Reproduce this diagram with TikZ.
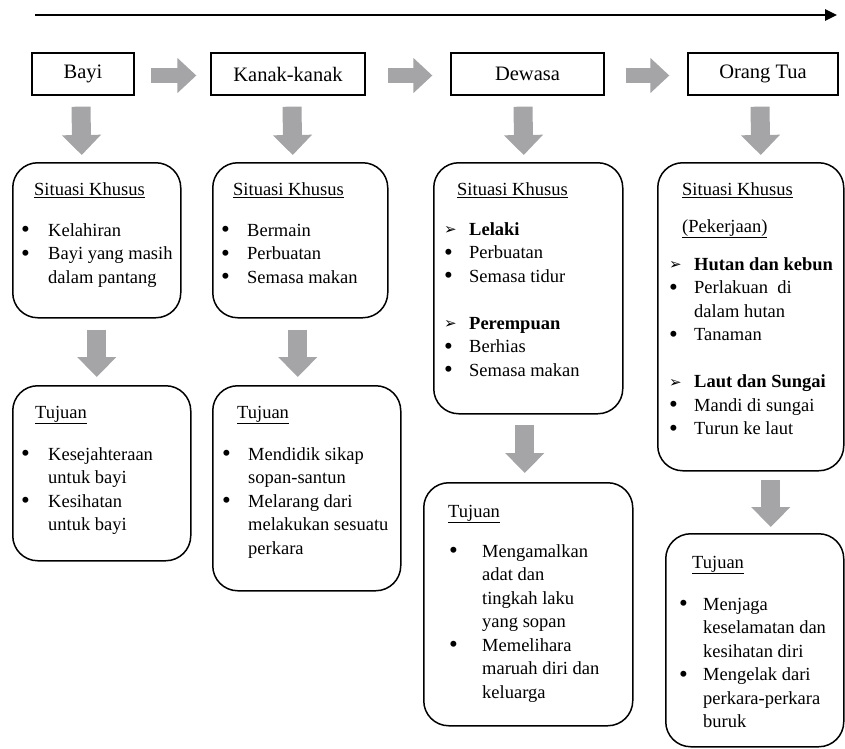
\documentclass[tikz,border=0pt]{standalone}
\usepackage{fontspec}
\setmainfont{Liberation Serif}
\newfontfamily\symfont{DejaVu Sans}
\usetikzlibrary{arrows.meta}
\definecolor{arrowgray}{RGB}{165,165,167}
\newlength\bw
\newlength\ulw
\newcommand{\ttl}[2][3pt]{\settowidth\ulw{#2}\rlap{\rule[-#1]{\ulw}{1.5pt}}#2}
\newcommand{\itm}[1]{\makebox[\bw][l]{\smash{\raisebox{-1.5pt}{\scalebox{1.35}{\textbullet}}}}#1}
\newcommand{\cnt}[1]{\hspace*{\bw}#1}
\newcommand{\grp}[1]{\makebox[\bw][l]{\smash{\raisebox{0.5pt}{\symfont\fontsize{15}{15}\selectfont ➢}}}\textbf{#1}}
\newenvironment{lines}[1]{\global\bw=#1\begin{tabular}[t]{@{}l@{}}}{\end{tabular}}
\tikzset{
  stage/.style={draw, line width=1.3pt, minimum height=42pt, inner sep=0pt,
    font=\fontsize{20.5}{24}\selectfont},
  info/.style={draw, line width=1.5pt, rounded corners=25pt, anchor=north west, inner sep=0pt},
  txt/.style={anchor=base west, inner sep=0pt,
    font=\fontsize{18.5}{23.5}\selectfont},
  rarrow/.style={arrowgray, line width=15pt, -{Triangle[length=19pt,width=34pt]}},
  darrow/.style={arrowgray, line width=19pt, -{Triangle[length=20pt,width=38pt]}},
  timeline/.style={line width=2.5pt, -{Triangle[length=12pt,width=11pt]}}
}

\begin{document}
\begin{tikzpicture}[x=1pt,y=-1pt]
  \useasboundingbox (0,0) rectangle (845,748);
  % time line
  \coordinate (tstart) at (35,15);
  \coordinate (tend) at (837,15);
  \draw[timeline] (tstart) -- (tend);

  % stages
  \node[stage, minimum width=102pt] (bayi)   at (83,74)    {Bayi};
  \node[stage, minimum width=154pt] (kanak)  at (288,74)   {Kanak-kanak};
  \node[stage, minimum width=153pt] (dewasa) at (527.5,74) {Dewasa};
  \node[stage, minimum width=150pt] (tua)    at (763,74)   {Orang Tua};
  \draw[rarrow] ([xshift=16pt,yshift=-1.5pt]bayi.east)   -- ([xshift=-14pt,yshift=-1.5pt]kanak.west);
  \draw[rarrow] ([xshift=22pt,yshift=-1.5pt]kanak.east)  -- ([xshift=-18pt,yshift=-1.5pt]dewasa.west);
  \draw[rarrow] ([xshift=21pt,yshift=-1.5pt]dewasa.east) -- ([xshift=-18pt,yshift=-1.5pt]tua.west);

  % situasi khusus
  \node[info, minimum width=168pt, minimum height=155pt] (skbayi)   at (12,162)  {};
  \node[info, minimum width=175pt, minimum height=155pt] (skkanak)  at (212,162) {};
  \node[info, minimum width=189pt, minimum height=251pt] (skdewasa) at (433,162) {};
  \node[info, minimum width=186pt, minimum height=308pt] (sktua)    at (657,162) {};

  \draw[darrow] ([xshift=-2pt,yshift=-11pt]bayi.south)   -- ([xshift=-15pt,yshift=7pt]skbayi.north);
  \draw[darrow] ([xshift=4pt,yshift=-11pt]kanak.south)   -- ([xshift=-7.5pt,yshift=7pt]skkanak.north);
  \draw[darrow] ([xshift=-4.5pt,yshift=-11pt]dewasa.south) -- ([xshift=-4.5pt,yshift=7pt]skdewasa.north);
  \draw[darrow] ([xshift=-3pt,yshift=-11pt]tua.south)    -- ([xshift=10pt,yshift=7pt]sktua.north);

  \node[txt] (skbayi-h) at (34,195) {\ttl{Situasi Khusus}};
  \node[txt] (skbayi-l) at (21,236) {\begin{lines}{27pt}
    \itm{Kelahiran}\\ \itm{Bayi yang masih}\\ \cnt{dalam pantang}\end{lines}};
  \node[txt] (skkanak-h) at (233,195) {\ttl{Situasi Khusus}};
  \node[txt] (skkanak-l) at (221,236) {\begin{lines}{26pt}
    \itm{Bermain}\\ \itm{Perbuatan}\\ \itm{Semasa makan}\end{lines}};
  \node[txt] (skdewasa-h) at (457,195) {\ttl{Situasi Khusus}};
  \node[txt] (skdewasa-l) at (444,235) {\begin{lines}{25pt}
    \grp{Lelaki}\\ \itm{Perbuatan}\\ \itm{Semasa tidur}\\[23.5pt]
    \grp{Perempuan}\\ \itm{Berhias}\\ \itm{Semasa makan}\end{lines}};
  \node[txt] (sktua-h) at (682,195) {\ttl{Situasi Khusus}};
  \node[txt] (sktua-h2) at (682,232) {\ttl[6pt]{(Pekerjaan)}};
  \node[txt] (sktua-l) at (669,270) {\begin{lines}{25pt}
    \grp{Hutan dan kebun}\\ \itm{Perlakuan~ di}\\ \cnt{dalam hutan}\\ \itm{Tanaman}\\[23.5pt]
    \grp{Laut dan Sungai}\\ \itm{Mandi di sungai}\\ \itm{Turun ke laut}\end{lines}};

  % tujuan
  \node[info, minimum width=178pt, minimum height=175pt] (tjbayi)   at (12,385)  {};
  \node[info, minimum width=188pt, minimum height=205pt] (tjkanak)  at (212,385) {};
  \node[info, minimum width=209pt, minimum height=243pt] (tjdewasa) at (423,482) {};
  \node[info, minimum width=178pt, minimum height=213pt] (tjtua)    at (665,533) {};

  \draw[darrow] ([yshift=-11pt]skbayi.south)                 -- ([xshift=-5pt,yshift=8pt]tjbayi.north);
  \draw[darrow] ([xshift=-2.5pt,yshift=-11pt]skkanak.south)  -- ([xshift=-9pt,yshift=8pt]tjkanak.north);
  \draw[darrow] ([xshift=-3.5pt,yshift=-10pt]skdewasa.south) -- ([xshift=-3.5pt,yshift=9pt]tjdewasa.north);
  \draw[darrow] ([xshift=20pt,yshift=-8pt]sktua.south)       -- ([xshift=16pt,yshift=6pt]tjtua.north);

  \node[txt] (tjbayi-h) at (35,418) {\ttl[6pt]{Tujuan}};
  \node[txt] (tjbayi-l) at (21,460) {\begin{lines}{27pt}
    \itm{Kesejahteraan}\\ \cnt{untuk bayi}\\ \itm{Kesihatan}\\ \cnt{untuk bayi}\end{lines}};
  \node[txt] (tjkanak-h) at (237,418) {\ttl[6pt]{Tujuan}};
  \node[txt] (tjkanak-l) at (222,460) {\begin{lines}{26pt}
    \itm{Mendidik sikap}\\ \cnt{sopan-santun}\\ \itm{Melarang dari}\\ \cnt{melakukan sesuatu}\\ \cnt{perkara}\end{lines}};
  \node[txt] (tjdewasa-h) at (448,517) {\ttl[6pt]{Tujuan}};
  \node[txt] (tjdewasa-l) at (449,557) {\begin{lines}{33pt}
    \itm{Mengamalkan}\\ \cnt{adat dan}\\ \cnt{tingkah laku}\\ \cnt{yang sopan}\\
    \itm{Memelihara}\\ \cnt{maruah diri dan}\\ \cnt{keluarga}\end{lines}};
  \node[txt] (tjtua-h) at (692,568) {\ttl[6pt]{Tujuan}};
  \node[txt] (tjtua-l) at (679,610) {\begin{lines}{24pt}
    \itm{Menjaga}\\ \cnt{keselamatan dan}\\ \cnt{kesihatan diri}\\ \itm{Mengelak dari}\\
    \cnt{perkara-perkara}\\ \cnt{buruk}\end{lines}};
\end{tikzpicture}
\end{document}
